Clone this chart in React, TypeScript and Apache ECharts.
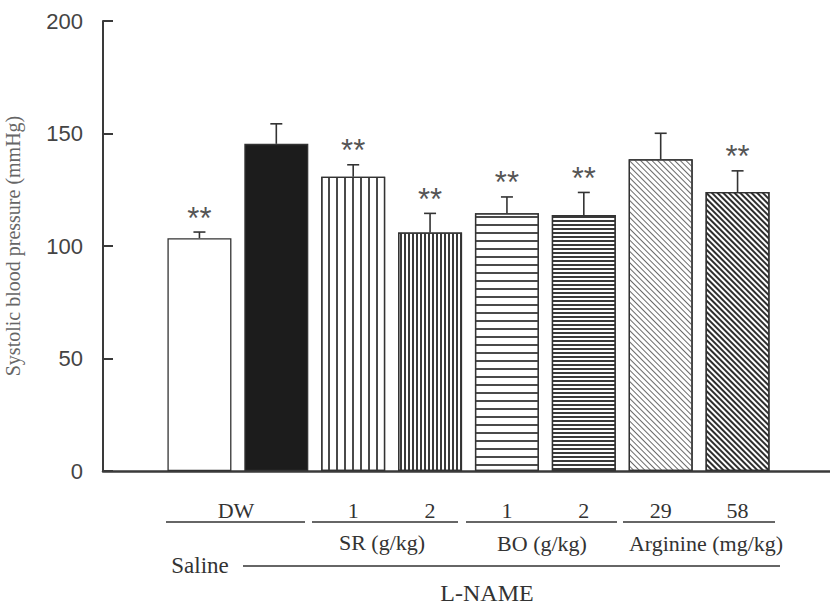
import React, { useEffect, useRef } from "react";
import * as echarts from "echarts";

const categories = ["Saline DW", "L-NAME DW", "SR 1", "SR 2", "BO 1", "BO 2", "Arginine 29", "Arginine 58"];
const tickLabels = ["", "", "1", "2", "1", "2", "29", "58"];
const means = [103.5, 145.4, 130.8, 106.0, 114.6, 113.8, 138.6, 124.0];
const errors = [2.7, 8.9, 5.3, 8.5, 7.2, 10.0, 11.5, 9.4];
const marks = ["**", "", "**", "**", "**", "**", "", "**"];
const yTicks = [0, 50, 100, 150, 200];

const SERIF = '"Liberation Serif", "Times New Roman", serif';
const SANS = '"Liberation Sans", Arial, sans-serif';

const patterns: any[] = [
  { color: "#ffffff" },
  { color: "#1c1c1c" },
  { color: "#ffffff", decal: { symbol: "rect", symbolSize: 1, color: "#4a4a4a", backgroundColor: "#ffffff", dashArrayX: [1.1, 5.4], dashArrayY: [1, 0], rotation: 0 } },
  { color: "#ffffff", decal: { symbol: "rect", symbolSize: 1, color: "#3a3a3a", backgroundColor: "#dcdcdc", dashArrayX: [1.2, 1.4], dashArrayY: [1, 0], rotation: 0 } },
  { color: "#ffffff", decal: { symbol: "rect", symbolSize: 1, color: "#4a4a4a", backgroundColor: "#ffffff", dashArrayX: [1, 0], dashArrayY: [1.1, 5.5], rotation: 0 } },
  { color: "#ffffff", decal: { symbol: "rect", symbolSize: 1, color: "#3a3a3a", backgroundColor: "#dcdcdc", dashArrayX: [1, 0], dashArrayY: [1.2, 1.6], rotation: 0 } },
  { color: "#ffffff", decal: { symbol: "rect", symbolSize: 1, color: "#6a6a6a", backgroundColor: "#ffffff", dashArrayX: [1, 0], dashArrayY: [1, 2.2], rotation: Math.PI / 4 } },
  { color: "#ffffff", decal: { symbol: "rect", symbolSize: 1, color: "#2e2e2e", backgroundColor: "#e4e4e4", dashArrayX: [1, 0], dashArrayY: [1.6, 1.5], rotation: Math.PI / 4 } },
];

export default function App() {
  const ref = useRef<HTMLDivElement>(null);
  useEffect(() => {
    document.body.style.margin = "0";
    const chart = echarts.init(ref.current!, undefined, { renderer: "svg" });
    const lineStyle = { stroke: "#333", lineWidth: 1.5 };
    const txt = (text: string, x: number, y: number, size: number) => ({
      type: "text",
      style: { text, x, y, textAlign: "center", textVerticalAlign: "middle", align: "center", verticalAlign: "middle", fontSize: size, fontFamily: SERIF, fill: "#333" },
    });
    const hline = (x1: number, x2: number, y: number) => ({ type: "line", shape: { x1, y1: y, x2, y2: y }, style: lineStyle });
    chart.setOption({
      animation: false,
      backgroundColor: "#ffffff",
      grid: [
        { left: 161, width: 615, top: 21, height: 450, outerBoundsMode: "none", containLabel: false },
        { left: 103, right: 0, top: 21, height: 450, outerBoundsMode: "none", containLabel: false },
      ],
      xAxis: [
        {
          type: "category",
          gridIndex: 0,
          data: categories,
          axisLine: { show: false },
          axisTick: { show: false },
          axisLabel: {
            formatter: (_v: string, i: number) => tickLabels[i],
            margin: 28,
            fontFamily: SERIF,
            fontSize: 22,
            color: "#333",
            interval: 0,
          },
        },
        {
          type: "value",
          gridIndex: 1,
          min: 0,
          max: 1,
          axisLine: { show: true, onZero: false, lineStyle: { color: "#3a3a3a", width: 2.5 } },
          axisTick: { show: false },
          axisLabel: { show: false },
          splitLine: { show: false },
        },
      ],
      yAxis: [
        { type: "value", gridIndex: 0, min: 0, max: 200, show: false },
        {
          type: "value",
          gridIndex: 1,
          min: 0,
          max: 200,
          interval: 50,
          axisLine: { show: true, lineStyle: { color: "#3a3a3a", width: 2 } },
          axisTick: { show: true, inside: true, length: 10, lineStyle: { color: "#3a3a3a", width: 2 } },
          axisLabel: {
            margin: 20,
            fontFamily: SANS,
            fontSize: 22,
            color: "#444",
            formatter: (v: number) => (yTicks.includes(v) ? String(v) : ""),
          },
          splitLine: { show: false },
          name: "Systolic blood pressure (mmHg)",
          nameLocation: "middle",
          nameRotate: 90,
          nameGap: 80,
          nameTextStyle: { fontFamily: SERIF, fontSize: 20, color: "#666" },
        },
      ],
      series: [
        {
          type: "bar",
          xAxisIndex: 0,
          yAxisIndex: 0,
          barWidth: 64,
          data: means.map((m, i) => ({
            value: m,
            itemStyle: { ...patterns[i], borderColor: "#333", borderWidth: 1.3 },
          })),
        },
        {
          type: "custom",
          xAxisIndex: 0,
          yAxisIndex: 0,
          data: means.map((m, i) => [i, m, errors[i]]),
          renderItem: (params: any, api: any) => {
            const i = api.value(0);
            const m = api.value(1);
            const e = api.value(2);
            const mark = marks[params.dataIndex];
            const base = api.coord([i, m]);
            const top = api.coord([i, m + e]);
            const cx = base[0];
            const children: any[] = [
              { type: "line", shape: { x1: cx, y1: base[1], x2: cx, y2: top[1] }, style: { stroke: "#333", lineWidth: 1.6 } },
              { type: "line", shape: { x1: cx - 6, y1: top[1], x2: cx + 6, y2: top[1] }, style: { stroke: "#333", lineWidth: 1.6 } },
            ];
            if (mark) {
              children.push({
                type: "text",
                style: { text: mark, x: cx, y: top[1] - 14, textAlign: "center", textVerticalAlign: "middle", align: "center", verticalAlign: "middle", fontSize: 31, fontFamily: SANS, fill: "#555" },
              });
            }
            return { type: "group", children };
          },
          z: 5,
        },
      ],
      graphic: [
        txt("DW", 236, 510, 22),
        hline(166, 305, 522),
        hline(312, 458, 522),
        hline(466, 617, 522),
        hline(623, 775, 522),
        txt("SR (g/kg)", 382, 542, 22),
        txt("BO (g/kg)", 542, 543, 22),
        txt("Arginine (mg/kg)", 706, 543, 22),
        txt("Saline", 200, 565, 23),
        hline(243, 780, 566),
        txt("L-NAME", 487, 593, 24),
      ],
    });
    return () => chart.dispose();
  }, []);
  return <div ref={ref} style={{ position: "fixed", left: 0, top: 0, width: 830, height: 605 }} />;
}
